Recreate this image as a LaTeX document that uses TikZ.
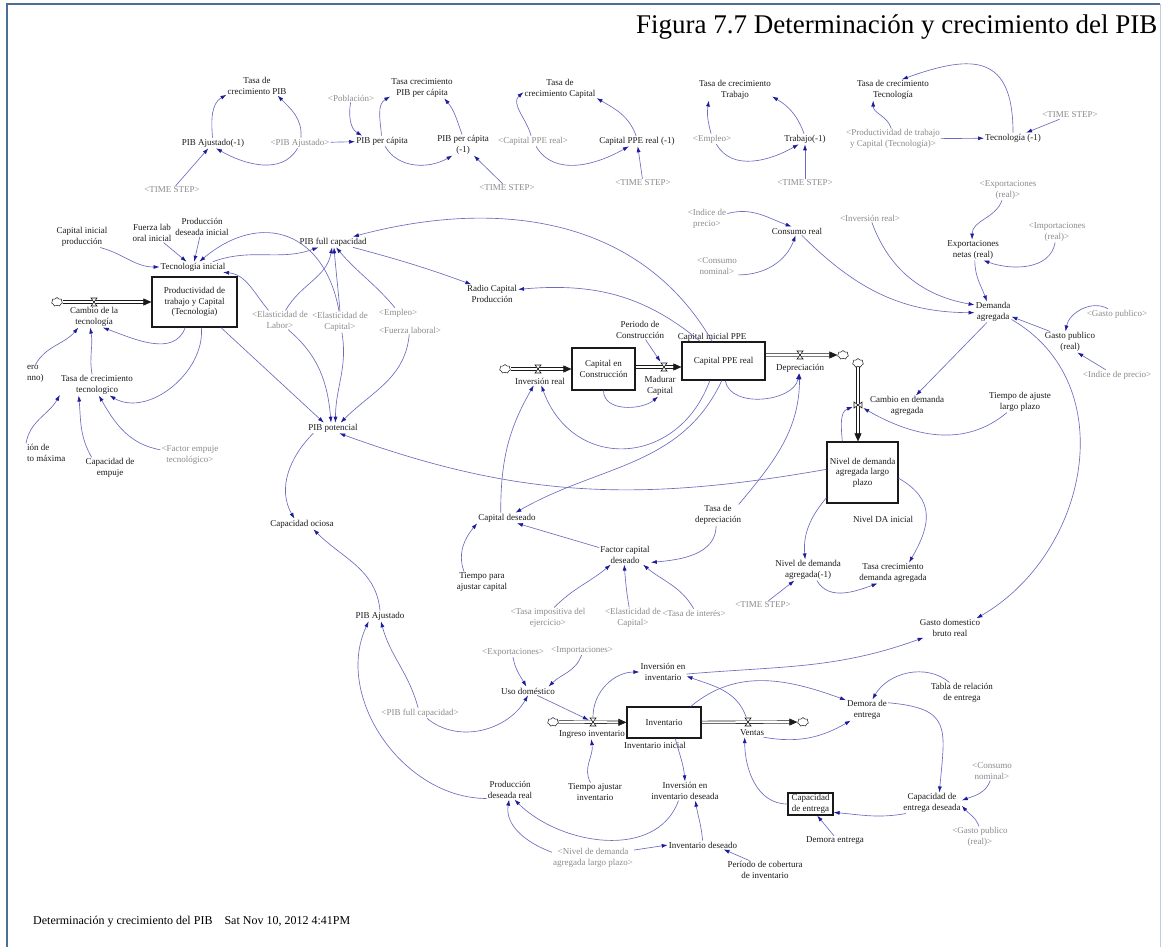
\documentclass[tikz,border=0pt]{standalone}
\usepackage{fontspec}
\setmainfont{Liberation Serif}
\usetikzlibrary{arrows.meta,shapes.symbols,backgrounds}
\definecolor{LinkBlue}{HTML}{6B6BC0}
\definecolor{LinkHead}{HTML}{1C1C9C}
\definecolor{ShadowGray}{HTML}{8A8A8A}
\definecolor{FrameBlue}{HTML}{4F6E93}
\definecolor{InkBlack}{HTML}{1A1A1A}

\begin{document}
\begin{tikzpicture}[
  x=1pt,y=1pt,
  var/.style={font=\fontsize{9}{10.5}\selectfont,align=center,inner sep=1pt,text=InkBlack},
  shadow/.style={var,text=ShadowGray},
  stock/.style={var,draw=InkBlack,line width=1.2pt,inner sep=2pt},
  link/.style={draw=LinkBlue,line width=0.65pt,-{Latex[length=6pt,width=4pt,color=LinkHead]}},
  pipe/.style={draw=InkBlack,double=white,double distance=2pt,line width=0.6pt,-{Triangle[length=8pt,width=7pt]}},
  cloudy/.style={cloud,cloud puffs=7,aspect=1.3,draw=InkBlack,fill=white,line width=0.5pt,inner sep=0pt,minimum width=11pt,minimum height=9pt},
  valve/.style={inner sep=0pt,minimum width=8pt,minimum height=10pt,
    path picture={\draw[InkBlack,fill=white,line width=0.6pt]
      ([shift={(-3pt,4pt)}]path picture bounding box.center) -- ([shift={(3pt,4pt)}]path picture bounding box.center)
      -- ([shift={(-3pt,-4pt)}]path picture bounding box.center) -- ([shift={(3pt,-4pt)}]path picture bounding box.center) -- cycle;}},
  valveV/.style={inner sep=0pt,minimum width=10pt,minimum height=8pt,
    path picture={\draw[InkBlack,fill=white,line width=0.6pt]
      ([shift={(-4pt,3pt)}]path picture bounding box.center) -- ([shift={(-4pt,-3pt)}]path picture bounding box.center)
      -- ([shift={(4pt,3pt)}]path picture bounding box.center) -- ([shift={(4pt,-3pt)}]path picture bounding box.center) -- cycle;}}
]
\useasboundingbox (0,0) rectangle (1167,-947);
\draw[FrameBlue,line width=2.5pt] (7,-947) -- (7,-4) -- (1160,-4);
\draw[FrameBlue!35,line width=1pt] (1160,-4) -- (1160,-947);

\node[font=\fontsize{27}{32}\selectfont,anchor=base west,inner sep=0pt] (title) at (636,-34) {Figura 7.7 Determinación y crecimiento del PIB};
\node[font=\fontsize{12}{14}\selectfont,anchor=base west,inner sep=0pt] (footer) at (33,-924) {Determinación y crecimiento del PIB\quad Sat Nov 10, 2012 4:41PM};

% growth rates row
\node[var] (tcPIB) at (257,-86) {Tasa de\\crecimiento PIB};
\node[var] (pibAj1) at (213,-143) {PIB Ajustado(-1)};
\node[shadow] (shPibAj) at (300,-143) {<PIB Ajustado>};
\node[shadow] (tsA) at (172,-190) {<TIME STEP>};
\node[shadow] (shPob) at (351,-98) {<Población>};
\node[var] (tcPIBpc) at (422,-88) {Tasa crecimiento\\PIB per cápita};
\node[var] (pibpc) at (382,-141) {PIB per cápita};
\node[var] (pibpc1) at (463,-145) {PIB per cápita\\(-1)};
\node[shadow] (tsB) at (507,-188) {<TIME STEP>};
\node[shadow] (shCap) at (533,-141) {<Capital PPE real>};
\node[var] (tcCap) at (560,-89) {Tasa de\\crecimiento Capital};
\node[var] (cap1) at (637,-141) {Capital PPE real (-1)};
\node[shadow] (tsC) at (643,-183) {<TIME STEP>};
\node[var] (tcTrab) at (735,-90) {Tasa de crecimiento\\Trabajo};
\node[shadow] (shEmpA) at (712,-139) {<Empleo>};
\node[var] (trab1) at (805,-139) {Trabajo(-1)};
\node[shadow] (tsD) at (805,-183) {<TIME STEP>};
\node[var] (tcTec) at (893,-90) {Tasa de crecimiento\\Tecnología};
\node[shadow] (shProd) at (893,-139) {<Productividad de trabajo\\y Capital (Tecnología)>};
\node[var] (tec1) at (1013,-138) {Tecnología (-1)};
\node[shadow] (tsE) at (1070,-115) {<TIME STEP>};

% technology and potential output
\node[var] (capIni) at (82,-237) {Capital inicial\\producción};
\node[var] (fzaIni) at (152,-233) {Fuerza lab\\oral inicial};
\node[var] (prodIni) at (202,-227) {Producción\\deseada inicial};
\node[var] (tecIni) at (193,-267) {Tecnología inicial};
\node[var] (pibFull) at (333,-242) {PIB full capacidad};
\node[stock,minimum width=85pt,minimum height=50pt] (prodBox) at (194.5,-302) {Productividad de\\trabajo y Capital\\(Tecnología)};
\node[cloudy] (cloudA) at (57,-302) {};
\node[var] (cambioTec) at (94,-317) {Cambio de la\\tecnología};
\node[var] (tcTecn) at (97,-385) {Tasa de crecimiento\\tecnologico};
\node[var,anchor=west,align=left] (cutA) at (26,-374) {ero\\nno)};
\node[var,anchor=west,align=left] (cutB) at (26,-453) {ión de\\to máxima};
\node[var] (capEmp) at (110,-468) {Capacidad de\\empuje};
\node[shadow] (shFactor) at (190,-455) {<Factor empuje\\tecnológico>};
\node[shadow] (shElL) at (280,-320) {<Elasticidad de\\Labor>};
\node[shadow] (shElC) at (340,-322) {<Elasticidad de\\Capital>};
\node[shadow] (shEmpB) at (398,-313) {<Empleo>};
\node[shadow] (shFza) at (410,-330) {<Fuerza laboral>};
\node[var] (pibPot) at (333,-428) {PIB potencial};
\node[var] (radio) at (492,-294) {Radio Capital\\Producción};
\node[var] (capOci) at (302,-524) {Capacidad ociosa};
\node[var] (pibAj) at (380,-616) {PIB Ajustado};

% capital
\node[shadow] (shIdxA) at (707,-219) {<Indice de\\precio>};
\node[var] (consReal) at (797,-231) {Consumo real};
\node[shadow] (shConsA) at (717,-266) {<Consumo\\nominal>};
\node[var] (periodo) at (640,-330) {Periodo de\\Construcción};
\node[stock,minimum width=63pt,minimum height=42pt] (capCons) at (603.5,-369) {Capital en\\Construcción};
\node[stock,minimum width=83pt,minimum height=38pt] (capPPE) at (723.5,-361) {Capital PPE real};
\node[var] (capIniPPE) at (712,-337) {Capital inicial PPE};
\node[cloudy] (cloudB) at (505,-369) {};
\node[var] (invReal) at (540,-381) {Inversión real};
\node[var] (madurar) at (660,-386) {Madurar\\Capital};
\node[var] (deprec) at (800,-368) {Depreciación};
\node[cloudy] (cloudC) at (843,-355) {};
\node[var] (capDes) at (507,-518) {Capital deseado};
\node[var] (tiempoCap) at (482,-582) {Tiempo para\\ajustar capital};
\node[var] (factor) at (625,-555) {Factor capital\\deseado};
\node[var] (tasaDep) at (718,-515) {Tasa de\\depreciación};
\node[shadow] (shTasaImp) at (548,-618) {<Tasa impositiva del\\ejercicio>};
\node[shadow] (shElC2) at (633,-618) {<Elasticidad de\\Capital>};
\node[shadow] (shInt) at (694,-613) {<Tasa de interés>};

% aggregate demand
\node[cloudy] (cloudD) at (858,-363) {};
\node[var] (cambioDA) at (907,-406) {Cambio en demanda\\agregada};
\node[stock,minimum width=71pt,minimum height=61pt] (nivelBox) at (862.5,-472.5) {Nivel de demanda\\agregada largo\\plazo};
\node[var] (tiempoAj) at (1020,-402) {Tiempo de ajuste\\largo plazo};
\node[var] (demAgr) at (993,-312) {Demanda\\agregada};
\node[var] (expNet) at (973,-250) {Exportaciones\\netas (real)};
\node[shadow] (shExp) at (1008,-190) {<Exportaciones\\(real)>};
\node[shadow] (shImp) at (1057,-232) {<Importaciones\\(real)>};
\node[shadow] (shInv) at (870,-218) {<Inversión real>};
\node[var] (gastoPub) at (1070,-342) {Gasto publico\\(real)};
\node[shadow] (shGasto) at (1117,-314) {<Gasto publico>};
\node[shadow] (shIdxB) at (1117,-375) {<Indice de precio>};
\node[var] (nivelDA1) at (808,-570) {Nivel de demanda\\agregada(-1)};
\node[shadow] (tsF) at (763,-605) {<TIME STEP>};
\node[var] (nivelIni) at (883,-519) {Nivel DA inicial};
\node[var] (tcDA) at (893,-573) {Tasa crecimiento\\demanda agregada};
\node[var] (gastoDom) at (950,-628) {Gasto domestico\\bruto real};

% inventory
\node[shadow] (shExpB) at (513,-652) {<Exportaciones>};
\node[shadow] (shImpB) at (582,-650) {<Importaciones>};
\node[var] (usoDom) at (528,-691) {Uso doméstico};
\node[shadow] (shPibFull) at (420,-713) {<PIB full capacidad>};
\node[cloudy] (cloudE) at (553,-722) {};
\node[var] (ingInv) at (592,-734) {Ingreso inventario};
\node[stock,minimum width=74pt,minimum height=31pt] (invBox) at (664,-722.5) {Inventario};
\node[var] (invIni) at (655,-745) {Inventario inicial};
\node[var] (ventas) at (752,-733) {Ventas};
\node[cloudy] (cloudF) at (803,-722) {};
\node[var] (invEnInv) at (663,-672) {Inversión en\\inventario};
\node[var] (prodReal) at (510,-790) {Producción\\deseada real};
\node[var] (tiempoInv) at (595,-792) {Tiempo ajustar\\inventario};
\node[var] (invDes) at (685,-791) {Inversión en\\inventario deseada};
\node[var] (invDeseado) at (703,-845) {Inventario deseado};
\node[shadow] (shNivel) at (593,-858) {<Nivel de demanda\\agregada largo plazo>};
\node[var] (periodoCob) at (765,-870) {Período de cobertura\\de inventario};
\node[stock,minimum width=45pt,minimum height=22pt,inner sep=1pt] (capEnt) at (810.5,-804) {Capacidad\\de entrega};
\node[var] (demoraEnt) at (835,-841) {Demora entrega};
\node[var] (capEntDes) at (932,-803) {Capacidad de\\entrega deseada};
\node[shadow] (shConsB) at (992,-771) {<Consumo\\nominal>};
\node[shadow] (shGastoB) at (980,-837) {<Gasto publico\\(real)>};
\node[var] (demoraDe) at (867,-710) {Demora de\\entrega};
\node[var] (tablaRel) at (962,-693) {Tabla de relación\\de entrega};

% valves
\node[valve] (valveA) at (94,-302) {};
\node[valve] (valveB) at (538,-369) {};
\node[valve] (valveC) at (664,-367) {};
\node[valve] (valveD) at (800,-355) {};
\node[valveV] (valveE) at (858,-405) {};
\node[valve] (valveF) at (593,-722) {};
\node[valve] (valveG) at (748,-722) {};

% flows
\begin{scope}[on background layer]
\draw[pipe] (cloudA) -- (prodBox);
\draw[pipe] (cloudB) -- (capCons);
\draw[pipe] (capCons.east |- valveC) -- (capPPE.west |- valveC);
\draw[pipe] (capPPE.east |- cloudC) -- (cloudC);
\draw[pipe] (cloudD) -- (cloudD |- nivelBox.north);
\draw[pipe] (cloudE) -- (invBox);
\draw[pipe] (invBox) -- (cloudF);
\end{scope}

% links: growth rates
\draw[link] (pibAj1.95) to[out=95,in=210] (tcPIB.196);
\draw[link] (shPibAj.80) to[out=85,in=-45] (tcPIB.-25);
\draw[link] (shPibAj.-115) to[out=-120,in=-30] (pibAj1.-60);
\draw[link] (tsA) -- (pibAj1);
\draw[link] (shPibAj) -- (pibpc);
\draw[link] (shPob.-95) to[out=-100,in=150] (pibpc.165);
\draw[link] (pibpc.95) to[out=95,in=210] (tcPIBpc.195);
\draw[link] (pibpc1.95) to[out=110,in=-50] (tcPIBpc.-25);
\draw[link] (pibpc.-60) to[out=-60,in=-150] (pibpc1.-135);
\draw[link] (tsB) -- (pibpc1);
\draw[link] (shCap.110) to[out=105,in=220] (tcCap.185);
\draw[link] (cap1.100) to[out=110,in=-30] (tcCap.-14);
\draw[link] (shCap.-60) to[out=-60,in=-150] (cap1.-147);
\draw[link] (tsC) -- (cap1);
\draw[link] (shEmpA.100) to[out=105,in=-100] (tcTrab.-158);
\draw[link] (trab1.100) to[out=110,in=-30] (tcTrab.-10);
\draw[link] (shEmpA.-50) to[out=-60,in=-150] (trab1.-140);
\draw[link] (tsD) -- (trab1);
\draw[link] (shProd.100) to[out=105,in=-90] (tcTec.-152);
\draw[link] (tec1.90) to[out=90,in=20,looseness=1.6] (tcTec.50);
\draw[link] (shProd) -- (tec1);
\draw[link] (tsE) -- (tec1);

% links: technology
\draw[link] (capIni.-30) to[out=-15,in=180] (tecIni.west);
\draw[link] (fzaIni) -- (tecIni);
\draw[link] (prodIni) -- (tecIni);
\draw[link] (shElC.95) to[out=100,in=40,looseness=1.4] (tecIni.40);
\draw[link] (shElL.140) to[out=130,in=-5] (tecIni.-10);
\draw[link] (tecIni.15) to[out=20,in=200] (pibFull.200);
\draw[link] (shElL.60) to[out=60,in=-100] (pibFull.-100);
\draw[link] (shElC.90) to[out=95,in=-85] (pibFull.-80);
\draw[link] (shEmpB.120) to[out=130,in=-50] (pibFull.-60);
\draw[link] (capPPE.120) to[out=120,in=15] (pibFull.15);
\draw[link] (pibFull.-15) to[out=-15,in=160] (radio.155);
\draw[link] (capPPE.140) to[out=140,in=5] (radio.10);
\draw[link] (prodBox.-110) to[out=-110,in=-20] (cambioTec.-50);
\draw[link] (prodBox.-75) to[out=-85,in=-30] (tcTecn.-40);
\draw[link] (prodBox.-44) -- (pibPot.150);
\draw[link] (shElL.-50) to[out=-40,in=95] (pibPot.110);
\draw[link] (shElC.-80) to[out=-80,in=90] (pibPot.65);
\draw[link] (shFza.-100) to[out=-95,in=45] (pibPot.35);
\draw[link] (nivelBox.175) to[out=190,in=-20] (pibPot.-40);
\draw[link] (tcTecn.115) to[out=100,in=-80] (cambioTec.-110);
\draw[link] (cutA.north) to[out=60,in=-130] (cambioTec.-146);
\draw[link] (cutB.north west) to[out=80,in=-120] (tcTecn.-165);
\draw[link] (capEmp.150) to[out=120,in=-85] (tcTecn.-150);
\draw[link] (shFactor.170) to[out=170,in=-60] (tcTecn.-80);
\draw[link] (pibPot.-165) to[out=-135,in=120] (capOci.145);
\draw[link] (pibAj.90) to[out=95,in=-45] (capOci.-25);
\draw[link] (prodReal.-160) to[out=180,in=-115] (pibAj.-155);
\draw[link] (shPibFull.110) to[out=105,in=-75] (pibAj.-80);

% links: capital
\draw[link] (shIdxA.15) to[out=15,in=160] (consReal.141);
\draw[link] (shConsA.-23) to[out=0,in=-110] (consReal.-108);
\draw[link] (consReal.-42) to[out=-45,in=180] (demAgr.182);
\draw[link] (shInv.-67) to[out=-70,in=170] (demAgr.159);
\draw[link] (shExp.-120) to[out=-110,in=90] (expNet.95);
\draw[link] (shImp.-100) to[out=-100,in=-20] (expNet.-45);
\draw[link] (expNet.-80) to[out=-90,in=110] (demAgr.120);
\draw[link] (gastoPub.152) -- (demAgr.-14);
\draw[link] (shGasto.150) to[out=150,in=80] (gastoPub.113);
\draw[link] (shIdxB.155) -- (gastoPub.-55);
\draw[link] (demAgr.-22) to[out=-30,in=30,looseness=1.1] (gastoDom.20);
\draw[link] (demAgr.-120) -- (cambioDA.50);
\draw[link] (tiempoAj.-141) to[out=-140,in=-30] (valveE);
\draw[link] (nivelBox.123) to[out=95,in=200] (valveE);
\draw[link] (capCons.south) to[out=-90,in=-140] (madurar.-100);
\draw[link] (periodo.-60) -- (valveC);
\draw[link] (capPPE.-85) to[out=-80,in=-100] (deprec.-100);
\draw[link] (tasaDep.27) to[out=50,in=-90] (deprec.-95);
\draw[link] (capDes.140) to[out=90,in=-120] (invReal.-145);
\draw[link] (capPPE.-125) to[out=-110,in=-70,looseness=1.4] (invReal.-74);
\draw[link] (capPPE.-95) to[out=-115,in=30] (capDes.32);
\draw[link] (tasaDep.-100) to[out=-90,in=5] (factor.-16);
\draw[link] (factor.164) -- (capDes.-28);
\draw[link] (tiempoCap.150) to[out=110,in=-130] (capDes.-170);
\draw[link] (shTasaImp.60) to[out=45,in=-140] (factor.-146);
\draw[link] (shElC2.110) to[out=100,in=-85] (factor.-95);
\draw[link] (shInt.95) to[out=120,in=-40] (factor.-28);
\draw[link] (tsF) -- (nivelDA1);
\draw[link] (nivelBox.-145) to[out=-130,in=95] (nivelDA1.105);
\draw[link] (nivelBox.-9) to[out=-30,in=60,looseness=1.3] (tcDA.33);
\draw[link] (nivelDA1.-50) to[out=-60,in=-160] (tcDA.-146);

% links: inventory
\draw[link] (shExpB.-90) to[out=-80,in=120] (usoDom.110);
\draw[link] (shImpB.-95) to[out=-110,in=45] (usoDom.12);
\draw[link] (shPibFull.-37) to[out=-40,in=-120] (usoDom.-90);
\draw[link] (usoDom) -- (valveF);
\draw[link] (valveF) to[out=90,in=180] (invEnInv.west);
\draw[link] (valveG) to[out=110,in=-20] (invEnInv.-10);
\draw[link] (invEnInv.-5) to[out=5,in=200] (gastoDom.-160);
\draw[link] (invBox.31) to[out=40,in=160] (demoraDe.155);
\draw[link] (ventas.-20) to[out=-10,in=-150] (demoraDe.-147);
\draw[link] (tablaRel.140) to[out=140,in=60] (demoraDe.63);
\draw[link] (demoraDe.19) to[out=-5,in=85,looseness=1.6] (capEntDes.55);
\draw[link] (shConsB.-100) to[out=-110,in=20] (capEntDes.5);
\draw[link] (shGastoB.95) to[out=110,in=-50] (capEntDes.-5);
\draw[link] (capEntDes.-158) to[out=-170,in=-5] (capEnt.-20);
\draw[link] (demoraEnt.100) -- (capEnt.-60);
\draw[link] (capEnt.west) to[out=180,in=-90] (ventas.-150);
\draw[link] (invBox.-55) to[out=-75,in=95] (invDes.90);
\draw[link] (tiempoInv.115) to[out=120,in=-80] (ingInv.-100);
\draw[link] (invDes.-124) to[out=-110,in=-45] (prodReal.-65);
\draw[link] (invDeseado.95) to[out=95,in=-80] (invDes.-43);
\draw[link] (shNivel.11) -- (invDeseado.west);
\draw[link] (shNivel.172) to[out=160,in=-100] (prodReal.-95);
\draw[link] (periodoCob.149) -- (invDeseado.-12);
\end{tikzpicture}
\end{document}
